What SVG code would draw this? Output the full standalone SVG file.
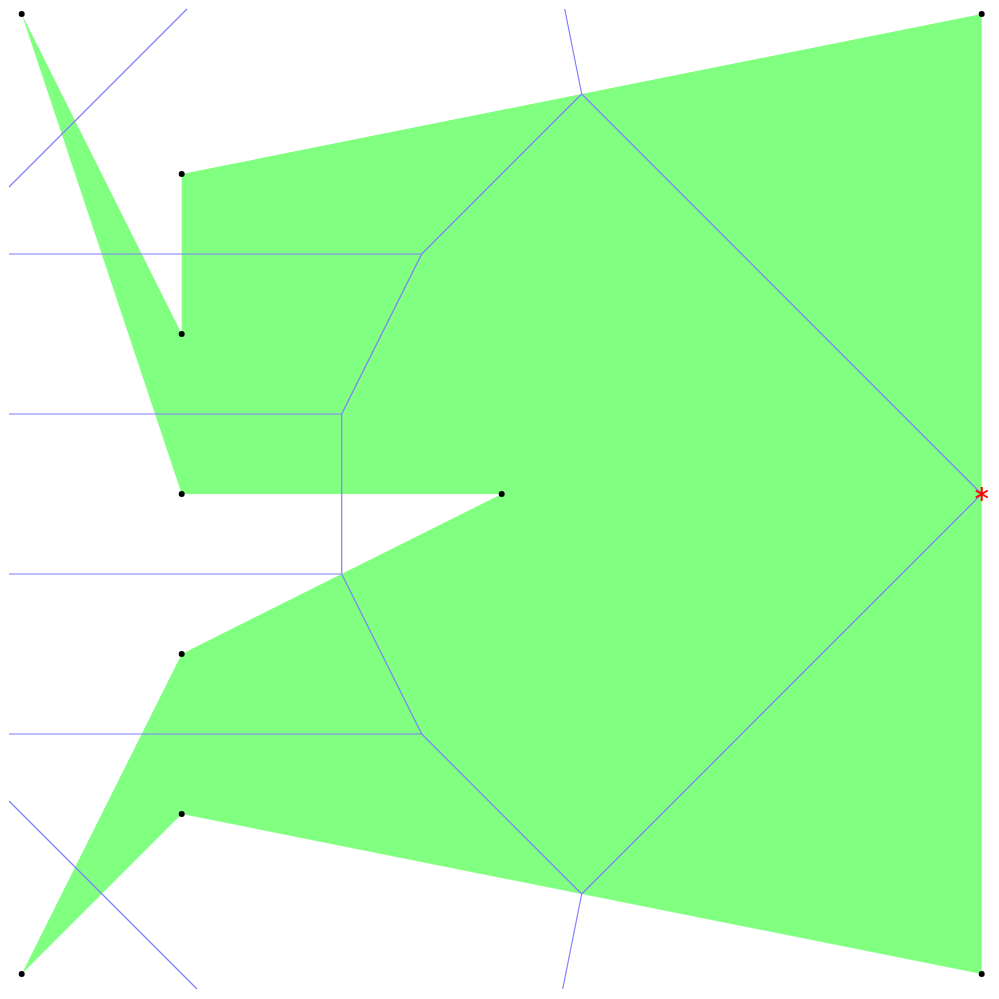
<svg xmlns="http://www.w3.org/2000/svg" width="999" height="999" viewBox="0 0 999 999">
<style>
.poly{fill:#80ff80;stroke:none}
.sk{stroke:#8080ff;stroke-width:1.2;fill:none}
.pt{fill:#000}
.star{stroke:#ff0000;stroke-width:2;fill:none}
</style>
<rect width="999" height="999" fill="#fff"/>
<g id="polygon">
<polygon class="poly" points="21.7,14 181.7,334 181.7,174 981.7,14 981.7,974 181.7,814 21.7,974 181.7,654 501.7,494 181.7,494"/>
</g>
<g id="connectors">
<line class="sk" x1="9" y1="187" x2="187" y2="9"/>
<line class="sk" x1="564.7" y1="9" x2="581.7" y2="94"/>
<line class="sk" x1="581.7" y1="94" x2="981.7" y2="494"/>
<line class="sk" x1="581.7" y1="94" x2="421.7" y2="254"/>
<line class="sk" x1="9" y1="254" x2="421.7" y2="254"/>
<line class="sk" x1="421.7" y1="254" x2="341.7" y2="414"/>
<line class="sk" x1="9" y1="414" x2="341.7" y2="414"/>
<line class="sk" x1="341.7" y1="414" x2="341.7" y2="574"/>
<line class="sk" x1="9" y1="574" x2="341.7" y2="574"/>
<line class="sk" x1="341.7" y1="574" x2="421.7" y2="734"/>
<line class="sk" x1="9" y1="734" x2="421.7" y2="734"/>
<line class="sk" x1="421.7" y1="734" x2="581.7" y2="894"/>
<line class="sk" x1="581.7" y1="894" x2="981.7" y2="494"/>
<line class="sk" x1="581.7" y1="894" x2="562.7" y2="989"/>
<line class="sk" x1="9" y1="801" x2="197" y2="989"/>
</g>
<g id="vertices">
<circle class="pt" cx="21.7" cy="14" r="3"/>
<circle class="pt" cx="181.7" cy="174" r="3"/>
<circle class="pt" cx="181.7" cy="334" r="3"/>
<circle class="pt" cx="181.7" cy="494" r="3"/>
<circle class="pt" cx="501.7" cy="494" r="3"/>
<circle class="pt" cx="181.7" cy="654" r="3"/>
<circle class="pt" cx="181.7" cy="814" r="3"/>
<circle class="pt" cx="21.7" cy="974" r="3"/>
<circle class="pt" cx="981.7" cy="14" r="3"/>
<circle class="pt" cx="981.7" cy="974" r="3"/>
</g>
<g id="marker">
<path class="star" d="M981.7,487 V501 M975.7,490.5 L987.7,497.5 M975.7,497.5 L987.7,490.5"/>
</g>
</svg>
